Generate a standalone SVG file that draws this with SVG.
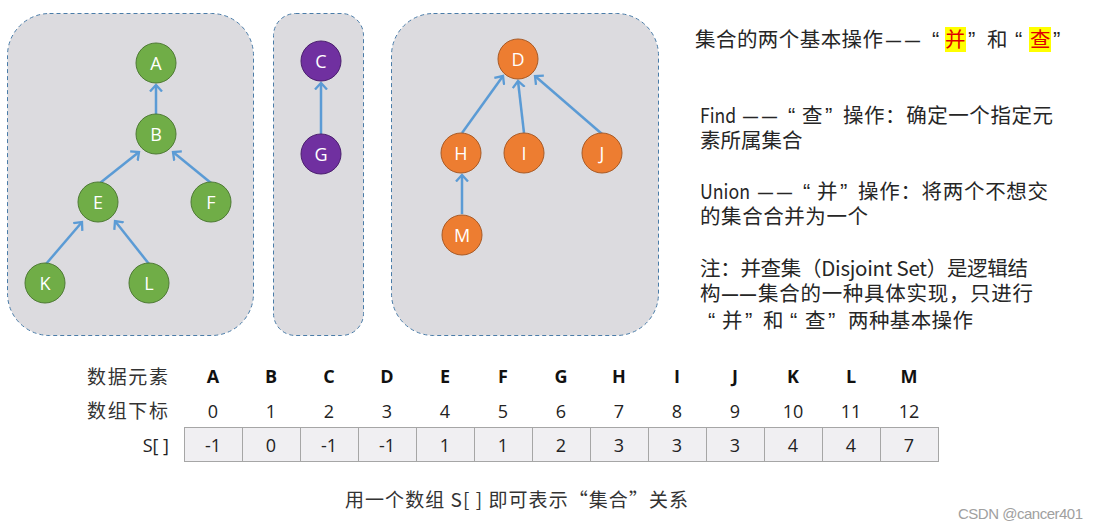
<svg xmlns="http://www.w3.org/2000/svg" width="1099" height="529" viewBox="0 0 1099 529">
<defs>
<style>
.box{fill:#DCDBDF;stroke:#4A7CA8;stroke-width:1;stroke-dasharray:4 3}
.g{fill:#70AD47;stroke:#4E7A35;stroke-width:1}
.p{fill:#7030A0;stroke:#4B1F6E;stroke-width:1}
.o{fill:#ED7D31;stroke:#A85A26;stroke-width:1}
.nl{font-family:"Open Sans","Noto Sans",sans-serif;font-size:18px;fill:#fff;text-anchor:middle}
.e{stroke:#5B9BD5;stroke-width:2.5;fill:none;marker-end:url(#ar)}
.t{font-family:"Noto Sans CJK SC","Noto Sans",sans-serif;font-size:20.5px;fill:#262626}
.q{font-family:"Liberation Sans",Arial,sans-serif;font-size:22px}
.d{font-family:"Liberation Sans",Arial,sans-serif;font-size:15px;font-weight:bold;letter-spacing:4px}
.h{font-family:"Open Sans","Noto Sans CJK SC",sans-serif;font-size:18px;font-weight:bold;fill:#111;text-anchor:middle}
.n{font-family:"Open Sans","Noto Sans CJK SC",sans-serif;font-size:18px;fill:#222;text-anchor:middle}
.lbl{font-family:"Noto Sans CJK SC",sans-serif;font-size:19px;fill:#333}
.cell{fill:#F0EFF2;stroke:#A6A6A6;stroke-width:1}
</style>
<marker id="ar" viewBox="-7 -7 14 14" refX="0" refY="0" markerWidth="14" markerHeight="14" markerUnits="userSpaceOnUse" orient="auto">
<path d="M-6.5,-6 L0,0 L-6.5,6" fill="none" stroke="#5B9BD5" stroke-width="2.3"/>
</marker>
</defs>
<rect width="1099" height="529" fill="#fff"/>
<g id="sets">
<rect class="box" x="7.5" y="13.5" width="246" height="322" rx="42"/>
<rect class="box" x="273.5" y="13.5" width="90" height="322" rx="22"/>
<rect class="box" x="391.5" y="13.5" width="267" height="322" rx="42"/>
</g>
<g id="connectors">
<line class="e" x1="156" y1="114" x2="156" y2="85"/>
<line class="e" x1="100" y1="183" x2="139" y2="152"/>
<line class="e" x1="211" y1="183" x2="173" y2="152"/>
<line class="e" x1="46" y1="264" x2="82" y2="222"/>
<line class="e" x1="149" y1="264" x2="115" y2="221"/>
<line class="e" x1="321" y1="134" x2="321" y2="83"/>
<line class="e" x1="462" y1="133" x2="503" y2="76"/>
<line class="e" x1="524" y1="133" x2="518" y2="81"/>
<line class="e" x1="602" y1="134" x2="535" y2="76"/>
<line class="e" x1="462" y1="214" x2="462" y2="175"/>
</g>
<g id="nA"><circle class="g" cx="156" cy="63" r="20"/><text class="nl" x="156" y="69.5">A</text></g>
<g id="nB"><circle class="g" cx="156" cy="134" r="20"/><text class="nl" x="156" y="140.5">B</text></g>
<g id="nE"><circle class="g" cx="98" cy="202" r="20"/><text class="nl" x="98" y="208.5">E</text></g>
<g id="nF"><circle class="g" cx="211" cy="202" r="20"/><text class="nl" x="211" y="208.5">F</text></g>
<g id="nK"><circle class="g" cx="45" cy="283" r="20"/><text class="nl" x="45" y="289.5">K</text></g>
<g id="nL"><circle class="g" cx="149" cy="283" r="20"/><text class="nl" x="149" y="289.5">L</text></g>
<g id="nC"><circle class="p" cx="321" cy="61" r="20"/><text class="nl" x="321" y="67.5">C</text></g>
<g id="nG"><circle class="p" cx="321" cy="154" r="20"/><text class="nl" x="321" y="160.5">G</text></g>
<g id="nD"><circle class="o" cx="518" cy="59" r="20"/><text class="nl" x="518" y="65.5">D</text></g>
<g id="nH"><circle class="o" cx="461" cy="153" r="20"/><text class="nl" x="461" y="159.5">H</text></g>
<g id="nI"><circle class="o" cx="524" cy="153" r="20"/><text class="nl" x="524" y="159.5">I</text></g>
<g id="nJ"><circle class="o" cx="602" cy="153" r="20"/><text class="nl" x="602" y="159.5">J</text></g>
<g id="nM"><circle class="o" cx="462" cy="235" r="20"/><text class="nl" x="462" y="241.5">M</text></g>
<g id="notes">
<rect x="945" y="27" width="21" height="25" fill="#FFFF00"/>
<rect x="1029" y="27" width="22" height="25" fill="#FFFF00"/>
<text class="t" y="47"><tspan x="695" textLength="188" lengthAdjust="spacing">集合的两个基本操作</tspan><tspan class="d" x="886" y="46">——</tspan><tspan class="q" x="932" y="47">“</tspan><tspan x="945" fill="#E00000">并</tspan><tspan class="q" x="968">”</tspan><tspan x="987">和</tspan><tspan class="q" x="1015">“</tspan><tspan x="1030" fill="#E00000">查</tspan><tspan class="q" x="1053">”</tspan></text>
<text class="t" y="123"><tspan x="700" textLength="36" lengthAdjust="spacingAndGlyphs">Find</tspan><tspan class="d" x="743" y="122">——</tspan><tspan class="q" x="788" y="123">“</tspan><tspan x="802">查</tspan><tspan class="q" x="825">”</tspan><tspan x="843" textLength="210" lengthAdjust="spacing">操作：确定一个指定元</tspan></text>
<text class="t" x="700" y="148">素所属集合</text>
<text class="t" y="199"><tspan x="700" textLength="50" lengthAdjust="spacingAndGlyphs">Union</tspan><tspan class="d" x="758" y="198">——</tspan><tspan class="q" x="803" y="199">“</tspan><tspan x="817">并</tspan><tspan class="q" x="840">”</tspan><tspan x="858" textLength="190" lengthAdjust="spacing">操作：将两个不想交</tspan></text>
<text class="t" x="700" y="224" textLength="168" lengthAdjust="spacing">的集合合并为一个</text>
<text class="t" x="700" y="276" textLength="328" lengthAdjust="spacing">注：并查集（Disjoint Set）是逻辑结</text>
<text class="t" y="301"><tspan x="700">构</tspan><tspan class="d" x="722" y="300" style="letter-spacing:2px;font-size:16px">——</tspan><tspan x="758" y="301" textLength="275" lengthAdjust="spacing">集合的一种具体实现，只进行</tspan></text>
<text class="t" y="328"><tspan class="q" x="708">“</tspan><tspan x="722">并</tspan><tspan class="q" x="745">”</tspan><tspan x="763">和</tspan><tspan class="q" x="790">“</tspan><tspan x="805">查</tspan><tspan class="q" x="828">”</tspan><tspan x="848" textLength="125" lengthAdjust="spacing">两种基本操作</tspan></text>
</g>
<g id="table">
<text class="lbl" x="87" y="384" textLength="81" lengthAdjust="spacing">数据元素</text>
<text class="lbl" x="87" y="418" textLength="81" lengthAdjust="spacing">数组下标</text>
<text class="n" x="169" y="452" style="text-anchor:end">S[ ]</text>
<g class="cells">
<rect class="cell" x="184.5" y="427.5" width="58" height="34"/>
<rect class="cell" x="242.5" y="427.5" width="58" height="34"/>
<rect class="cell" x="300.5" y="427.5" width="58" height="34"/>
<rect class="cell" x="358.5" y="427.5" width="58" height="34"/>
<rect class="cell" x="416.5" y="427.5" width="58" height="34"/>
<rect class="cell" x="474.5" y="427.5" width="58" height="34"/>
<rect class="cell" x="532.5" y="427.5" width="58" height="34"/>
<rect class="cell" x="590.5" y="427.5" width="58" height="34"/>
<rect class="cell" x="648.5" y="427.5" width="58" height="34"/>
<rect class="cell" x="706.5" y="427.5" width="58" height="34"/>
<rect class="cell" x="764.5" y="427.5" width="58" height="34"/>
<rect class="cell" x="822.5" y="427.5" width="58" height="34"/>
<rect class="cell" x="880.5" y="427.5" width="58" height="34"/>
</g>
<text class="h" x="213" y="383">A</text><text class="h" x="271" y="383">B</text><text class="h" x="329" y="383">C</text><text class="h" x="387" y="383">D</text><text class="h" x="445" y="383">E</text><text class="h" x="503" y="383">F</text><text class="h" x="561" y="383">G</text><text class="h" x="619" y="383">H</text><text class="h" x="677" y="383">I</text><text class="h" x="735" y="383">J</text><text class="h" x="793" y="383">K</text><text class="h" x="851" y="383">L</text><text class="h" x="909" y="383">M</text>
<text class="n" x="213" y="418">0</text><text class="n" x="271" y="418">1</text><text class="n" x="329" y="418">2</text><text class="n" x="387" y="418">3</text><text class="n" x="445" y="418">4</text><text class="n" x="503" y="418">5</text><text class="n" x="561" y="418">6</text><text class="n" x="619" y="418">7</text><text class="n" x="677" y="418">8</text><text class="n" x="735" y="418">9</text><text class="n" x="793" y="418">10</text><text class="n" x="851" y="418">11</text><text class="n" x="909" y="418">12</text>
<text class="n" x="213" y="452">-1</text><text class="n" x="271" y="452">0</text><text class="n" x="329" y="452">-1</text><text class="n" x="387" y="452">-1</text><text class="n" x="445" y="452">1</text><text class="n" x="503" y="452">1</text><text class="n" x="561" y="452">2</text><text class="n" x="619" y="452">3</text><text class="n" x="677" y="452">3</text><text class="n" x="735" y="452">3</text><text class="n" x="793" y="452">4</text><text class="n" x="851" y="452">4</text><text class="n" x="909" y="452">7</text>
<text class="lbl" x="345" y="507" textLength="343" lengthAdjust="spacing">用一个数组 S[ ] 即可表示“集合”关系</text>
</g>
<text x="958" y="519" font-family="'Liberation Sans',Arial,sans-serif" font-size="15" fill="#A0A0A0" textLength="125" lengthAdjust="spacing">CSDN @cancer401</text>
</svg>
